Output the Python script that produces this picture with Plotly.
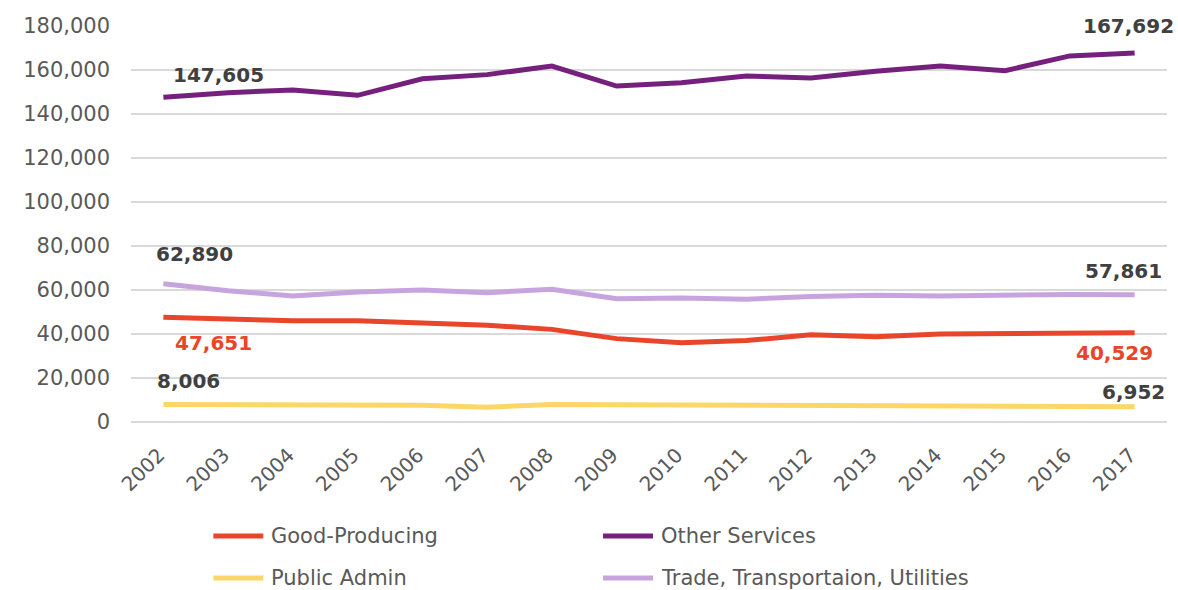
import plotly.graph_objects as go

# Employment by sector, 2002-2017
years = [str(y) for y in range(2002, 2018)]

other_services = [147605, 149700, 150900, 148500, 156000, 157900, 161800, 152700,
                  154200, 157300, 156400, 159400, 161800, 159700, 166400, 167692]
trade_transport = [62890, 59700, 57300, 59100, 60000, 58800, 60300, 56000,
                   56400, 55800, 57000, 57600, 57300, 57900, 58000, 57861]
good_producing = [47651, 47000, 46000, 46000, 44800, 44000, 42100, 37900,
                  36000, 37000, 39700, 38800, 40000, 40000, 40200, 40529]
public_admin = [8006, 7950, 7900, 7800, 7600, 6700, 8000, 7800,
                7700, 7600, 7500, 7300, 7300, 7200, 6900, 6952]

y_ticks = list(range(0, 180001, 20000))

series = [
    ("Good-Producing", good_producing, "#E8452A"),
    ("Other Services", other_services, "#76207E"),
    ("Public Admin", public_admin, "#FDD668"),
    ("Trade, Transportaion, Utilities", trade_transport, "#C8A4DE"),
]

FONT = "DejaVu Sans"
TICK_GREY = "#595959"
LABEL_DARK = "#404040"

W, H = 1178, 590
ML, MR, MT, MB = 130.6, 10.6, 26, 168
PW, PH = W - ML - MR, H - MT - MB


def paper_x(px):
    return (px - ML) / PW


def paper_y(py):
    return (H - MB - py) / PH


fig = go.Figure()

# draw order: bottom series first so the purple lines sit on top
for name, vals, color in [series[2], series[0], series[3], series[1]]:
    fig.add_trace(go.Scatter(
        x=list(range(len(years))), y=vals, mode="lines", name=name,
        line=dict(color=color, width=5), showlegend=False,
        hoverinfo="x+y",
    ))

# end-point value labels: (series values, index, color, xanchor, xshift, yshift)
end_labels = [
    (other_services, 0, LABEL_DARK, "left", 8, 22),
    (other_services, 15, LABEL_DARK, "right", 41, 27),
    (trade_transport, 0, LABEL_DARK, "left", -9, 30),
    (trade_transport, 15, LABEL_DARK, "right", 29, 24),
    (good_producing, 0, "#E8452A", "left", 10, -26),
    (good_producing, 15, "#E8452A", "right", 20, -20),
    (public_admin, 0, LABEL_DARK, "left", -8, 23),
    (public_admin, 15, LABEL_DARK, "right", 32, 15),
]
for vals, i, color, xa, xs, ys in end_labels:
    fig.add_annotation(
        x=i, y=vals[i], xref="x", yref="y", text=f"{vals[i]:,}",
        showarrow=False, xanchor=xa, yanchor="middle", xshift=xs, yshift=ys,
        font=dict(family=FONT, size=20, color=color, weight="bold"),
    )

# legend in two columns below the axis
legend_pos = [(213, 536), (603, 536), (213, 578), (603, 578)]
for (name, vals, color), (lx, ly) in zip(series, legend_pos):
    fig.add_shape(
        type="line", xref="paper", yref="paper",
        x0=paper_x(lx), x1=paper_x(lx + 50), y0=paper_y(ly), y1=paper_y(ly),
        line=dict(color=color, width=5),
    )
    fig.add_annotation(
        x=paper_x(lx + 56), y=paper_y(ly), xref="paper", yref="paper",
        text=name, showarrow=False, xanchor="left", yanchor="middle",
        font=dict(family=FONT, size=21, color=TICK_GREY),
    )

fig.update_layout(
    width=W, height=H,
    margin=dict(l=ML, r=MR, t=MT, b=MB),
    paper_bgcolor="white", plot_bgcolor="white",
    showlegend=False,
    font=dict(family=FONT, color=TICK_GREY),
)
fig.update_xaxes(
    range=[-0.5, len(years) - 0.5],
    tickmode="array", tickvals=list(range(len(years))),
    # trailing no-break space nudges the slanted labels toward the tick
    ticktext=[y + "\u00a0" for y in years],
    tickangle=-45, tickfont=dict(size=20, color=TICK_GREY),
    showgrid=False, showline=False, zeroline=False, ticks="",
    ticklabelstandoff=12,
)
fig.update_yaxes(
    range=[0, 180000], tickmode="array", tickvals=y_ticks,
    ticktext=[f"{v:,}" for v in y_ticks],
    tickfont=dict(size=21, color=TICK_GREY),
    showgrid=True, gridcolor="#D9D9D9", gridwidth=1.5,
    zeroline=True, zerolinecolor="#D9D9D9", zerolinewidth=1.5,
    showline=False, ticks="", ticklabelstandoff=20,
)

fig.write_html("out.html")
